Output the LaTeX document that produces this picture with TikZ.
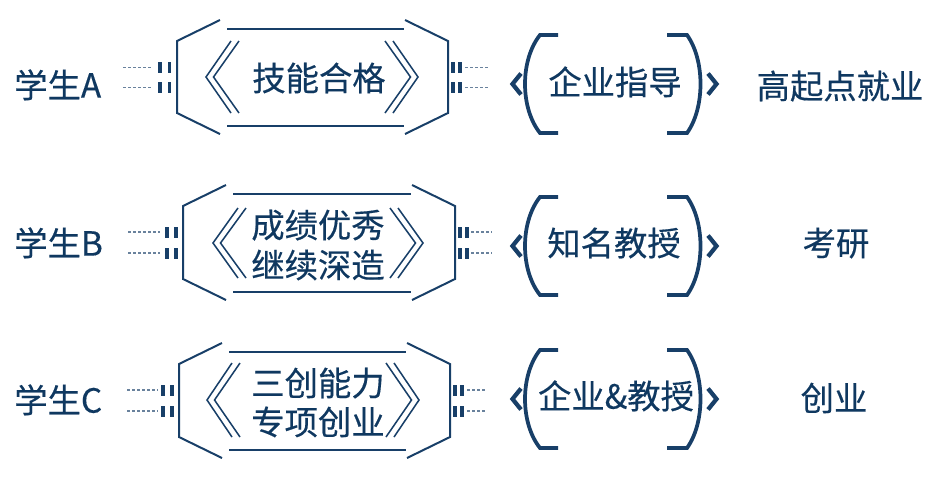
\documentclass[tikz,border=0pt]{standalone}
\usepackage{fontspec}
\setmainfont[FakeBold=0.4]{Noto Sans CJK SC}
\definecolor{navy}{HTML}{183F68}
\definecolor{navytext}{HTML}{0F3860}
\newcommand\octframe[4]{% L R T B
  \draw[oct] ({#1+43},#3) -- (#1,{#3+21}) -- (#1,{#4-21}) -- ({#1+43},#4);
  \draw[oct] ({#2-43},#3) -- (#2,{#3+21}) -- (#2,{#4-21}) -- ({#2-43},#4);
  \draw[octbar] ({#1+50},{#3+9}) -- ({#2-44},{#3+9});
  \draw[octbar] ({#1+50},{#4-8}) -- ({#2-44},{#4-8});
}
\newcommand\chevpairL[3]{% tipx cy half
  \draw[chev] ({#1+25},{#2-#3}) -- (#1,#2) -- ({#1+25},{#2+#3});
  \draw[chev] ({#1+33},{#2-#3}) -- ({#1+7.5},#2) -- ({#1+33},{#2+#3});
}
\newcommand\chevpairR[3]{% tipx cy half
  \draw[chev] ({#1-25},{#2-#3}) -- (#1,#2) -- ({#1-25},{#2+#3});
  \draw[chev] ({#1-33},{#2-#3}) -- ({#1-7.5},#2) -- ({#1-33},{#2+#3});
}
\newcommand\bigparens[1]{% cy
  \draw[paren] (558,{#1-49}) -- (540,{#1-49}) .. controls (520,{#1-24}) and (520,{#1+24}) .. (540,{#1+49}) -- (558,{#1+49});
  \draw[paren] (667,{#1-49}) -- (687,{#1-49}) .. controls (705,{#1-24}) and (705,{#1+24}) .. (687,{#1+49}) -- (667,{#1+49});
  \draw[smallchev] (521,{#1-10.5}) -- (512.5,#1) -- (521,{#1+10.5});
  \draw[smallchev] (708,{#1-10.5}) -- (716.5,#1) -- (708,{#1+10.5});
}
\newcommand\linkL[5]{% y dashx1 dashx2 bar1 bar2
  \draw[linkdash] (#2,#1) -- (#3,#1);
  \fill[navy] (#4,{#1-5.5}) rectangle ({#4+4},{#1+5.5});
  \fill[navy] (#5,{#1-5.5}) rectangle ({#5+3.5},{#1+5.5});
}
\newcommand\linkR[5]{% y bar1 bar2 dashx1 dashx2
  \fill[navy] (#2,{#1-5.5}) rectangle ({#2+3.5},{#1+5.5});
  \fill[navy] (#3,{#1-5.5}) rectangle ({#3+4},{#1+5.5});
  \draw[linkdash] (#4,#1) -- (#5,#1);
}
\begin{document}
\begin{tikzpicture}[x=0.75pt,y=-0.75pt,
  oct/.style={draw=navy,line width=1.5pt,line join=miter},
  octbar/.style={draw=navy,line width=1.7pt},
  chev/.style={draw=navy,line width=1.15pt,line join=miter},
  paren/.style={draw=navy,line width=2.8pt},
  smallchev/.style={draw=navy,line width=3.2pt,line join=miter},
  linkdash/.style={draw=navy!65,line width=0.9pt,dash pattern=on 2.25pt off 1.5pt},
  txt/.style={text=navytext,inner sep=0pt,font=\fontsize{25}{30}\selectfont,text height=21pt,text depth=2pt}]
\useasboundingbox (0,0) rectangle (938,476);

% ---- text nodes
\node[txt,anchor=west] (labA) at (14,85) {学生A};
\node[txt,anchor=west] (labB) at (14,243) {学生B};
\node[txt,anchor=west] (labC) at (14,400) {学生C};

\node[txt] (octA) at (319,78) {技能合格};
\node[txt] (octB1) at (318,225) {成绩优秀};
\node[txt] (octB2) at (318,265) {继续深造};
\node[txt] (octC1) at (318,383) {三创能力};
\node[txt] (octC2) at (318,422) {专项创业};

\node[txt] (midA) at (615,82) {企业指导};
\node[txt] (midB) at (614,243) {知名教授};
\node[txt] (midC) at (616,396) {企业\&教授};

\node[txt] (resA) at (840,86) {高起点就业};
\node[txt] (resB) at (836,243) {考研};
\node[txt] (resC) at (834,398) {创业};

% ---- row A
\octframe{177}{448}{20}{134}
\chevpairL{206}{77}{36}
\chevpairR{418}{77}{36}
\linkL{67.5}{123}{153}{158}{167.5}
\linkL{87.5}{123}{153}{158}{167.5}
\linkR{67.5}{451}{457.5}{465}{488}
\linkR{87.5}{451}{457.5}{465}{488}
\bigparens{84}

% ---- row B
\octframe{183}{455}{185}{300}
\chevpairL{213}{243}{35}
\chevpairR{423}{243}{35}
\linkL{232}{128}{160}{165}{174}
\linkL{253}{128}{160}{165}{174}
\linkR{232}{458}{464.5}{471}{492}
\linkR{253}{458}{464.5}{471}{492}
\bigparens{246}

% ---- row C
\octframe{179}{450}{343}{458}
\chevpairL{207}{400}{37}
\chevpairR{419}{400}{37}
\linkL{390}{127}{158}{161}{170}
\linkL{411}{127}{158}{161}{170}
\linkR{390}{453}{460}{467}{487}
\linkR{411}{453}{460}{467}{487}
\bigparens{399}
\end{tikzpicture}
\end{document}
